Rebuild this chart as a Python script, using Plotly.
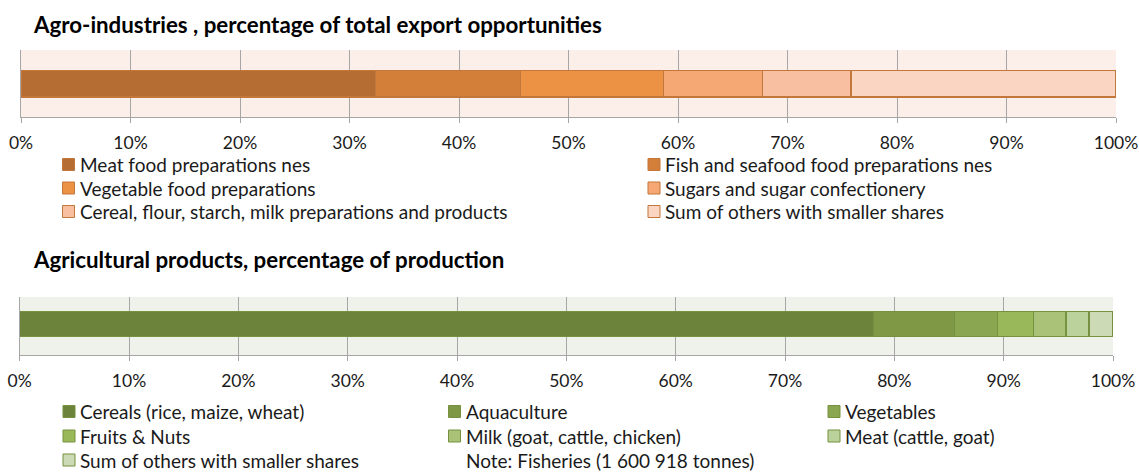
import plotly.graph_objects as go

W, H = 1139, 472
FONT = "Lato"

# Agro-industries: share of total export opportunities (%)
agro_title = "Agro-industries , percentage of total export opportunities"
agro_labels = [
    "Meat food preparations nes",
    "Fish and seafood food preparations nes",
    "Vegetable food preparations",
    "Sugars and sugar confectionery",
    "Cereal, flour, starch, milk preparations and products",
    "Sum of others with smaller shares",
]
agro_shares = [32.4, 13.2, 13.1, 9.0, 8.1, 24.2]
agro_colors = ["#B56D33", "#D37F3A", "#EC9245", "#F6A874", "#F8BFA0", "#F9D5C2"]

# Agricultural products: share of production (%)
agri_title = "Agricultural products, percentage of production"
agri_labels = [
    "Cereals (rice, maize, wheat)",
    "Aquaculture",
    "Vegetables",
    "Fruits & Nuts",
    "Milk (goat, cattle, chicken)",
    "Meat (cattle, goat)",
    "Sum of others with smaller shares",
]
agri_shares = [78.1, 7.4, 3.9, 3.3, 3.0, 2.1, 2.2]
agri_colors = ["#6B833A", "#7F9845", "#8AA651", "#99B85A", "#A9C278", "#BCD29C", "#CCDAB5"]
agri_note = "Note: Fisheries (1 600 918 tonnes)"

tick_vals = [0, 10, 20, 30, 40, 50, 60, 70, 80, 90, 100]
tick_text = ["0%", "10%", "20%", "30%", "40%", "50%", "60%", "70%", "80%", "90%", "100%"]


def px(x):
    return x / W


def py(y):
    return 1 - y / H


fig = go.Figure()

for name, val, col in zip(agro_labels, agro_shares, agro_colors):
    fig.add_trace(go.Bar(
        x=[val], y=[0], orientation="h", name=name, width=0.40,
        marker=dict(color=col, line=dict(color="#C4773A", width=1.2)),
        xaxis="x", yaxis="y", showlegend=False, hoverinfo="name+x",
    ))

for name, val, col in zip(agri_labels, agri_shares, agri_colors):
    fig.add_trace(go.Bar(
        x=[val], y=[0], orientation="h", name=name, width=0.43,
        marker=dict(color=col, line=dict(color="#76913F", width=1.2)),
        xaxis="x2", yaxis="y2", showlegend=False, hoverinfo="name+x",
    ))

grid = "#A6A6A6"
xcommon = dict(
    range=[0, 100], tickvals=tick_vals, ticktext=tick_text,
    showgrid=True, gridcolor=grid, gridwidth=1.3,
    ticks="outside", ticklen=5, tickcolor=grid, tickwidth=1.3,
    showline=True, linecolor=grid, linewidth=1.3,
    zeroline=False, tickfont=dict(family=FONT, size=17.5, color="#1A1A1A"),
    ticklabelstandoff=5, ticklabeloverflow="allow",
    fixedrange=True, automargin=False,
)
ycommon = dict(
    showgrid=False, zeroline=False, showticklabels=False,
    showline=True, linecolor=grid, linewidth=1.3, ticks="", fixedrange=True,
    automargin=False,
)

# plot-area pixel boxes (left, right, top, bottom)
top_box = (21, 1116, 50, 117)
bot_box = (19.7, 1113, 297, 355)

fig.update_layout(
    width=W, height=H,
    margin=dict(l=0, r=0, t=0, b=0, autoexpand=False),
    paper_bgcolor="white", plot_bgcolor="rgba(0,0,0,0)",
    barmode="stack",
    font=dict(family=FONT, size=19, color="#1A1A1A"),
    xaxis=dict(domain=[px(top_box[0]), px(top_box[1])], anchor="y", **xcommon),
    yaxis=dict(domain=[py(top_box[3]), py(top_box[2])], anchor="x", range=[-0.5, 0.5], **ycommon),
    xaxis2=dict(domain=[px(bot_box[0]), px(bot_box[1])], anchor="y2", **xcommon),
    yaxis2=dict(domain=[py(bot_box[3]), py(bot_box[2])], anchor="x2", range=[-0.53, 0.47], **ycommon),
)

shapes = []
annotations = []

# plot-area fills
shapes.append(dict(type="rect", xref="x domain", yref="y domain", x0=0, x1=1, y0=0, y1=1,
                   fillcolor="#FCEEE9", line=dict(width=0), layer="below"))
shapes.append(dict(type="rect", xref="x2 domain", yref="y2 domain", x0=0, x1=1, y0=0, y1=1,
                   fillcolor="#EFF2EA", line=dict(width=0), layer="below"))

# chart titles
for text, yc in [(agro_title, 25), (agri_title, 259)]:
    annotations.append(dict(text="<b>%s</b>" % text, xref="paper", yref="paper",
                            x=px(31), y=py(yc), xanchor="left", yanchor="middle",
                            showarrow=False, font=dict(family=FONT, size=22.3, color="#000000")))


def add_legend(labels, colors, border, cols_x, rows_y, size):
    ncol = len(cols_x)
    for i, (lab, col) in enumerate(zip(labels, colors)):
        cx = cols_x[i % ncol]
        cy = rows_y[i // ncol]
        shapes.append(dict(type="rect", xref="paper", yref="paper",
                           x0=px(cx), x1=px(cx + 12), y0=py(cy + 6), y1=py(cy - 6),
                           fillcolor=col, line=dict(color=border, width=1)))
        annotations.append(dict(text=lab, xref="paper", yref="paper",
                                x=px(cx + 15), y=py(cy), xanchor="left", yanchor="middle",
                                showarrow=False, font=dict(family=FONT, size=size, color="#1A1A1A")))


add_legend(agro_labels, agro_colors, "#C4773A", [62.5, 648], [164.5, 188, 211.5], 19)
add_legend(agri_labels, agri_colors, "#76913F", [63, 448.5, 828], [411.5, 436, 460], 19)

annotations.append(dict(text=agri_note, xref="paper", yref="paper",
                        x=px(463.5), y=py(460), xanchor="left", yanchor="middle",
                        showarrow=False, font=dict(family=FONT, size=19, color="#1A1A1A")))

fig.update_layout(shapes=shapes, annotations=annotations)

fig.write_html("out.html")
